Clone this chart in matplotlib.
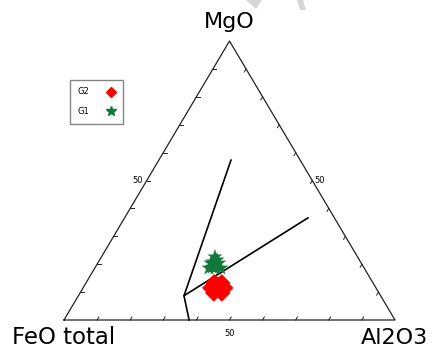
import matplotlib
matplotlib.use('Agg', force=True)

import numpy as np
import matplotlib.pyplot as plt
from matplotlib.lines import Line2D

plt.rcParams['font.family'] = ['DejaVu Sans']

# ---------- data (wt %, FeO total / Al2O3 / MgO) ----------
g1_feo = [43.1, 45.4, 43.0, 46.9, 45.1, 43.3, 44.6, 43.0, 44.2, 45.8]
g1_al2o3 = [34.3, 34.2, 36.6, 34.5, 36.3, 38.1, 34.6, 35.5, 36.0, 35.3]
g1_mgo = [22.6, 20.4, 20.4, 18.6, 18.6, 18.6, 20.8, 21.5, 19.8, 18.9]

g2_feo = [48.0, 45.7, 49.9, 47.7, 45.7, 49.9, 47.5, 47.3, 48.6, 46.6]
g2_al2o3 = [38.7, 41.0, 38.6, 40.8, 42.8, 40.4, 42.8, 40.2, 40.0, 42.0]
g2_mgo = [13.3, 13.3, 11.5, 11.5, 11.5, 9.7, 9.7, 12.5, 11.4, 11.4]

# field boundaries
bound1_feo = [20.9, 59.4, 62.2]
bound1_al2o3 = [21.8, 31.9, 37.8]
bound1_mgo = [57.3, 8.7, 0.0]

bound2_feo = [59.4, 8.0]
bound2_al2o3 = [31.9, 55.4]
bound2_mgo = [8.7, 36.6]

tick_steps = [10, 20, 30, 40, 50, 60, 70, 80, 90]

# triangle placement on the canvas (pixels)
X0, X1, YB, YT = 64.0, 395.0, 320.0, 41.0


def tern(fe, al, mg):
    fe, al, mg = np.asarray(fe, float), np.asarray(al, float), np.asarray(mg, float)
    s = fe + al + mg
    a, m = al / s, mg / s
    x = X0 + (X1 - X0) * (a + m / 2)
    y = YB - (YB - YT) * m
    return x, y


fig = plt.figure(figsize=(4.32, 3.51), dpi=100)
ax = fig.add_axes([0, 0, 1, 1])
ax.set_xlim(0, 432)
ax.set_ylim(351, 0)
ax.axis('off')

# faint watermark strokes at the top
ax.fill([246, 262, 256], [0, 0, 9], color='#d6d6d6', lw=0, zorder=0)
ax.fill([297, 303, 306, 300], [0, 0, 10, 10], color='#d6d6d6', lw=0, zorder=0)

# outline
tx, ty = tern([100, 0, 0, 100], [0, 100, 0, 0], [0, 0, 100, 0])
ax.plot(tx, ty, color='#222222', lw=0.9, zorder=2)

# ticks
tl = 3.5
for t in tick_steps:
    # base (FeO-Al2O3)
    x, y = tern(100 - t, t, 0)
    ax.plot([x, x + tl * 0.5], [y, y - tl * 0.87], color='#222222', lw=0.7)
    # left side (FeO-MgO)
    x, y = tern(100 - t, 0, t)
    ax.plot([x, x + tl], [y, y], color='#222222', lw=0.7)
    # right side (Al2O3-MgO)
    x, y = tern(0, 100 - t, t)
    ax.plot([x, x - tl * 0.5], [y, y + tl * 0.87], color='#222222', lw=0.7)

x, y = tern(50, 0, 50)
ax.text(x - 4, y, '50', fontsize=6, ha='right', va='center')
x, y = tern(0, 50, 50)
ax.text(x + 2, y, '50', fontsize=6, ha='left', va='center')
x, y = tern(50, 50, 0)
ax.text(x, y + 14, '50', fontsize=6, ha='center', va='center')

# boundaries
bx, by = tern(bound1_feo, bound1_al2o3, bound1_mgo)
ax.plot(bx, by, color='black', lw=1.2, zorder=3)
bx, by = tern(bound2_feo, bound2_al2o3, bound2_mgo)
ax.plot(bx, by, color='black', lw=1.2, zorder=3)

# samples
gx, gy = tern(g1_feo, g1_al2o3, g1_mgo)
ax.scatter(gx, gy, marker='*', s=130, color='#117a3a', edgecolors='none', zorder=4)
rx, ry = tern(g2_feo, g2_al2o3, g2_mgo)
ax.scatter(rx, ry, marker='D', s=80, color='#ff0000', edgecolors='none', zorder=4)

# apex labels
ax.text(229, 22, 'MgO', fontsize=16, ha='center', va='center')
ax.text(12, 338, 'FeO total', fontsize=16.5, ha='left', va='center')
ax.text(428, 338, 'Al2O3', fontsize=16, ha='right', va='center')

handles = [
    Line2D([], [], marker='D', color='#ff0000', ls='none', markersize=5),
    Line2D([], [], marker='*', color='#117a3a', ls='none', markersize=7),
]
leg = ax.legend(handles, ['G2', 'G1'], loc='upper left',
                bbox_to_anchor=(70 / 432, 1 - 80 / 351), markerfirst=False,
                fontsize=6, frameon=True, fancybox=False, shadow=False,
                handlelength=1.2, handletextpad=2.0, borderpad=0.9,
                labelspacing=1.3, borderaxespad=0)
leg.get_frame().set_edgecolor('#666666')
leg.get_frame().set_linewidth(1.0)

fig.savefig('out.png', dpi=100)
